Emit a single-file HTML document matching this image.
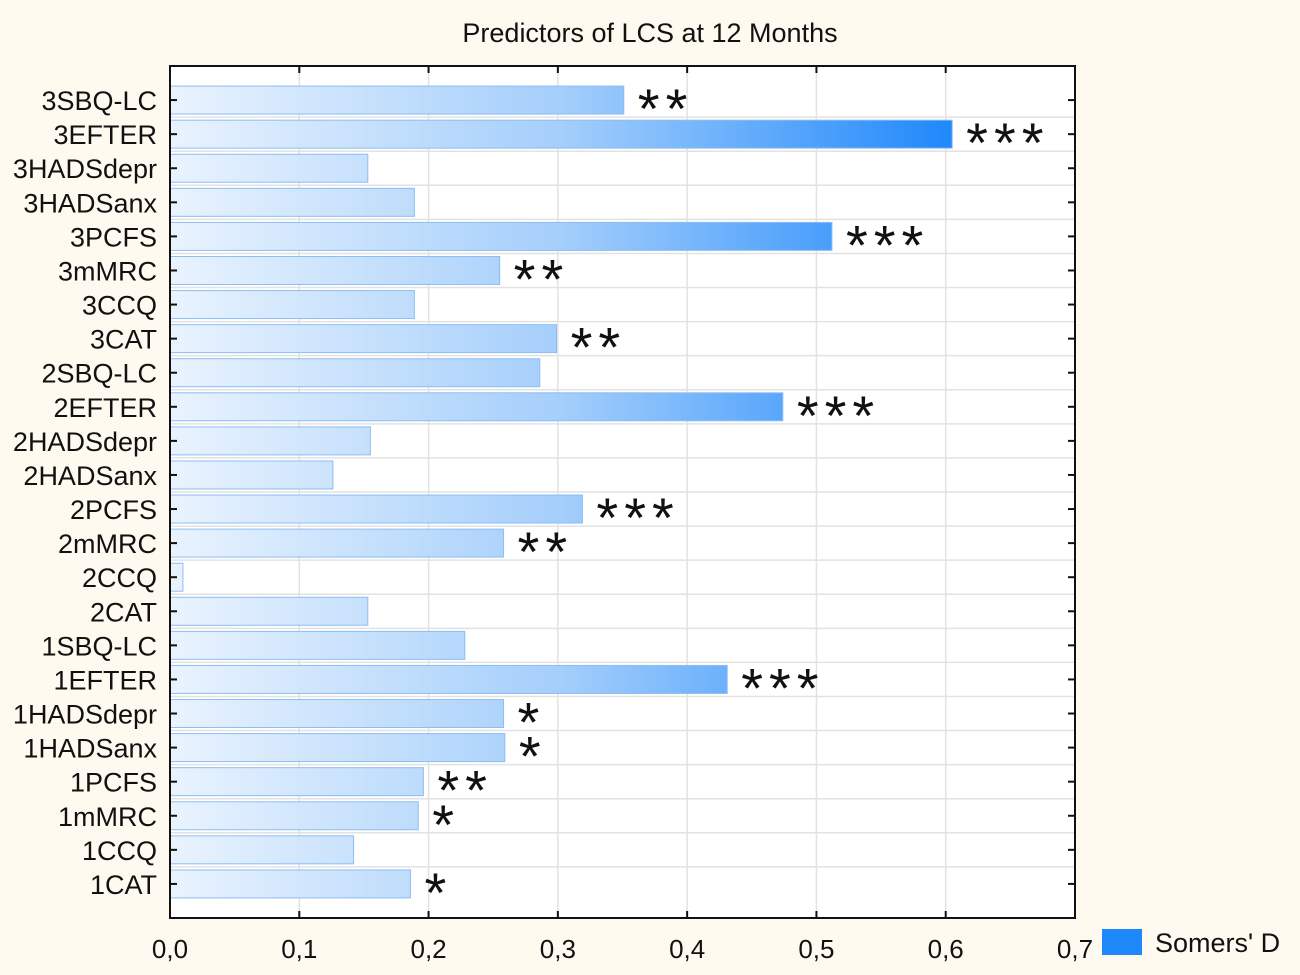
<!DOCTYPE html>
<html><head><meta charset="utf-8"><style>
body{margin:0;background:#fffaf0;}
svg{display:block;font-family:"Liberation Sans",sans-serif;}
</style></head><body>
<svg id="chart" width="1300" height="975">
<defs>
<linearGradient id="g" gradientUnits="userSpaceOnUse" x1="170" y1="0" x2="955" y2="0">
<stop offset="0" stop-color="#e9f3fe"/><stop offset="0.5" stop-color="#a4cefb"/><stop offset="1" stop-color="#1e88fb"/>
</linearGradient>
</defs>
<rect x="0" y="0" width="1300" height="975" fill="#fffaf0"/>
<text x="650" y="42" text-anchor="middle" font-size="27" fill="#111">Predictors of LCS at 12 Months</text>
<rect x="170" y="66" width="905" height="852" fill="#fff"/>
<g id="grid"></g><g id="bars"></g><g id="axes"></g>
<rect x="170" y="66" width="905" height="852" fill="none" stroke="#111" stroke-width="2"/>
<rect x="1102" y="929" width="40" height="26" fill="#1e88fb"/>
<text x="1155" y="952" font-size="27" fill="#111">Somers' D</text>
</svg>
<script>
const categories=["3SBQ-LC","3EFTER","3HADSdepr","3HADSanx","3PCFS","3mMRC","3CCQ","3CAT","2SBQ-LC","2EFTER","2HADSdepr","2HADSanx","2PCFS","2mMRC","2CCQ","2CAT","1SBQ-LC","1EFTER","1HADSdepr","1HADSanx","1PCFS","1mMRC","1CCQ","1CAT"];
const values=[0.351,0.605,0.153,0.189,0.512,0.255,0.189,0.299,0.286,0.474,0.155,0.126,0.319,0.258,0.010,0.153,0.228,0.431,0.258,0.259,0.196,0.192,0.142,0.186];
const stars=["**","***","","","***","**","","**","","***","","","***","**","","","","***","*","*","**","*","","*"];
const xTicks=["0,0","0,1","0,2","0,3","0,4","0,5","0,6","0,7"];
const xTickValues=[0,0.1,0.2,0.3,0.4,0.5,0.6,0.7];
const NS="http://www.w3.org/2000/svg";
const L=170,R=1075,T=66,B=918;
const x=v=>L+(v/0.7)*(R-L);
const band=(B-T)/(categories.length+1);
const y=i=>T+band*(i+1);
function mk(tag,attrs,parent){const e=document.createElementNS(NS,tag);for(const k in attrs)e.setAttribute(k,attrs[k]);parent.appendChild(e);return e;}
const grid=document.getElementById('grid'),bars=document.getElementById('bars'),axes=document.getElementById('axes');
xTickValues.forEach((v,i)=>{
 const gl=mk('line',{x1:x(v),x2:x(v),y1:T,y2:B,stroke:'#e2e2e2','stroke-width':1.5},grid);
 
 
 const tk=mk('line',{x1:x(v),x2:x(v),y1:T,y2:T+7,stroke:'#111','stroke-width':2},axes);
 
 
 const tk2=mk('line',{x1:x(v),x2:x(v),y1:B,y2:B-7,stroke:'#111','stroke-width':2},axes);
 
 
 const t=mk('text',{x:x(v),y:958,'text-anchor':'middle','font-size':26,fill:'#111'},axes);
 t.textContent=xTicks[i];
 
 
});
categories.forEach((c,i)=>{
 if(i<categories.length-1){const gl=mk('line',{x1:L,x2:R,y1:y(i)+band/2,y2:y(i)+band/2,stroke:'#e2e2e2','stroke-width':1.5},grid);
 
 }
 const r=mk('rect',{x:L,y:y(i)-14,width:x(values[i])-L,height:28,fill:'url(#g)',stroke:'#8cbdf3','stroke-width':1},bars);
 
 
 if(stars[i]){const s=mk('text',{x:x(values[i])+14,y:y(i)+28,'font-size':56,fill:'#111','letter-spacing':'6'},bars);
 s.textContent=stars[i];
 
 }
 const tk=mk('line',{x1:L,x2:L+7,y1:y(i),y2:y(i),stroke:'#111','stroke-width':2},axes);
 
 
 const tk2=mk('line',{x1:R,x2:R-7,y1:y(i),y2:y(i),stroke:'#111','stroke-width':2},axes);
 
 
 const t=mk('text',{x:157,y:y(i)+10,'text-anchor':'end','font-size':27,fill:'#111'},axes);
 t.textContent=c;
 
 
});
</script>
</body></html>
